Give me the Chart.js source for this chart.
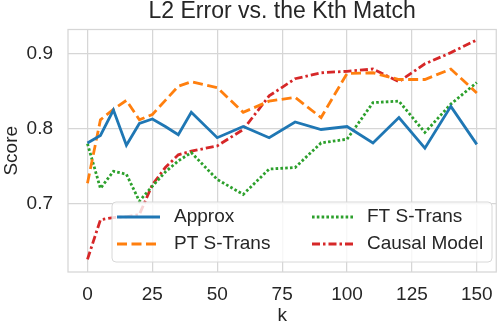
<!DOCTYPE html>
<html>
<head>
<meta charset="utf-8">
<script src="https://cdn.jsdelivr.net/npm/chart.js@4"></script>
<style>
  html, body { margin: 0; padding: 0; background: #fff; }
  #wrap { width: 504px; height: 326px; }
</style>
</head>
<body>
<div id="wrap"><canvas id="kthChart"></canvas></div>
<script>
/* ===== L2 error vs. Kth match ===== */

const kValues     = [0, 5, 10, 15, 20, 25, 30, 35, 40, 50, 60, 70, 80, 90, 100, 110, 120, 130, 140, 150];
const approx      = [0.781, 0.791, 0.825, 0.778, 0.807, 0.813, 0.803, 0.792, 0.822, 0.788, 0.803, 0.788, 0.809, 0.799, 0.803, 0.781, 0.815, 0.774, 0.830, 0.779];
const ptSTrans    = [0.727, 0.812, 0.826, 0.838, 0.812, 0.819, 0.838, 0.857, 0.863, 0.855, 0.822, 0.837, 0.842, 0.815, 0.874, 0.875, 0.866, 0.866, 0.880, 0.848];
const ftSTrans    = [0.780, 0.720, 0.743, 0.739, 0.703, 0.723, 0.742, 0.757, 0.768, 0.732, 0.712, 0.746, 0.748, 0.781, 0.786, 0.835, 0.837, 0.795, 0.833, 0.862];
const causalModel = [0.625, 0.678, 0.681, 0.682, 0.685, 0.725, 0.748, 0.765, 0.770, 0.777, 0.799, 0.844, 0.867, 0.875, 0.877, 0.880, 0.863, 0.887, 0.902, 0.919];

const xTicks = [0, 25, 50, 75, 100, 125, 150];
const yTicks = [0.7, 0.8, 0.9];

const TEXT = '#262626';
const GRID = '#d6d6d6';
const FONT = "'Liberation Sans', Arial, sans-serif";

function toPoints(ys) {
  return kValues.map((k, i) => ({ x: k, y: ys[i] }));
}

const seriesDefs = [
  { label: 'Approx',       data: approx,      color: '#1f77b4', dash: [] },
  { label: 'PT S-Trans',   data: ptSTrans,    color: '#ff7f0e', dash: [10, 4.5] },
  { label: 'FT S-Trans',   data: ftSTrans,    color: '#2ca02c', dash: [2.6, 2.2] },
  { label: 'Causal Model', data: causalModel, color: '#d62728', dash: [8, 3, 2.5, 3] }
];

// frame round the plot area (all four sides)
const framePlugin = {
  id: 'frame',
  beforeDatasetsDraw(chart) {
    const { ctx, chartArea: a } = chart;
    ctx.save();
    ctx.strokeStyle = GRID;
    ctx.lineWidth = 1.25;
    ctx.strokeRect(a.left, a.top, a.right - a.left, a.bottom - a.top);
    ctx.restore();
  }
};

// two-column legend box inside the plot, drawn over the lines
const legendBoxPlugin = {
  id: 'legendBox',
  afterDatasetsDraw(chart) {
    const ctx = chart.ctx;
    const box = { x: 112, y: 202, w: 380, h: 60 };
    ctx.save();
    ctx.beginPath();
    ctx.roundRect(box.x, box.y, box.w, box.h, 4);
    ctx.fillStyle = 'rgba(255,255,255,0.8)';
    ctx.fill();
    ctx.strokeStyle = '#d8d8d8';
    ctx.lineWidth = 1;
    ctx.stroke();

    const cols = [{ lx: 117, tx: 174 }, { lx: 312, tx: 367 }];
    const rows = [217, 244];
    ctx.font = '19px ' + FONT;
    ctx.textBaseline = 'middle';
    seriesDefs.forEach((s, i) => {
      const col = cols[Math.floor(i / 2)];
      const y = rows[i % 2];
      ctx.beginPath();
      ctx.setLineDash(s.dash);
      ctx.strokeStyle = s.color;
      ctx.lineWidth = 2.8;
      ctx.moveTo(col.lx, y);
      ctx.lineTo(col.lx + 43, y);
      ctx.stroke();
      ctx.setLineDash([]);
      ctx.fillStyle = TEXT;
      ctx.fillText(s.label, col.tx, y);
    });
    ctx.restore();
  }
};

const ctx = document.getElementById('kthChart').getContext('2d');

new Chart(ctx, {
  type: 'line',
  data: {
    datasets: seriesDefs.map(s => ({
      label: s.label,
      data: toPoints(s.data),
      borderColor: s.color,
      backgroundColor: s.color,
      borderDash: s.dash,
      borderWidth: 2.8,
      pointRadius: 0,
      tension: 0,
      fill: false
    }))
  },
  options: {
    responsive: true,
    maintainAspectRatio: false,
    animation: false,
    layout: { padding: { left: 0, right: 2, top: 0, bottom: 0 } },
    plugins: {
      legend: { display: false },
      tooltip: { enabled: false },
      title: {
        display: true,
        text: 'L2 Error vs. the Kth Match',
        color: TEXT,
        fullSize: false,
        font: { family: FONT, size: 23, weight: 'normal', lineHeight: 1 },
        padding: { top: 0, bottom: 6.5 }
      }
    },
    scales: {
      x: {
        type: 'linear',
        min: -7.5,
        max: 157.5,
        afterBuildTicks: scale => { scale.ticks = xTicks.map(v => ({ value: v })); },
        afterFit: scale => { scale.height = 54; },
        grid: { color: GRID, lineWidth: 1.25, drawTicks: false },
        border: { display: false },
        ticks: { color: TEXT, padding: 11, font: { family: FONT, size: 19 } },
        title: {
          display: true,
          text: 'k',
          color: TEXT,
          font: { family: FONT, size: 19 },
          padding: { top: 0, bottom: -1 }
        }
      },
      y: {
        min: 0.608,
        max: 0.933,
        afterBuildTicks: scale => { scale.ticks = yTicks.map(v => ({ value: v })); },
        afterFit: scale => { scale.width = 68; },
        grid: { color: GRID, lineWidth: 1.25, drawTicks: false },
        border: { display: false },
        ticks: {
          color: TEXT,
          padding: 15,
          font: { family: FONT, size: 19 },
          callback: v => v.toFixed(1)
        },
        title: {
          display: true,
          text: 'Score',
          color: TEXT,
          font: { family: FONT, size: 19 },
          padding: { top: 0, bottom: 0 }
        }
      }
    }
  },
  plugins: [framePlugin, legendBoxPlugin]
});
</script>
</body>
</html>
